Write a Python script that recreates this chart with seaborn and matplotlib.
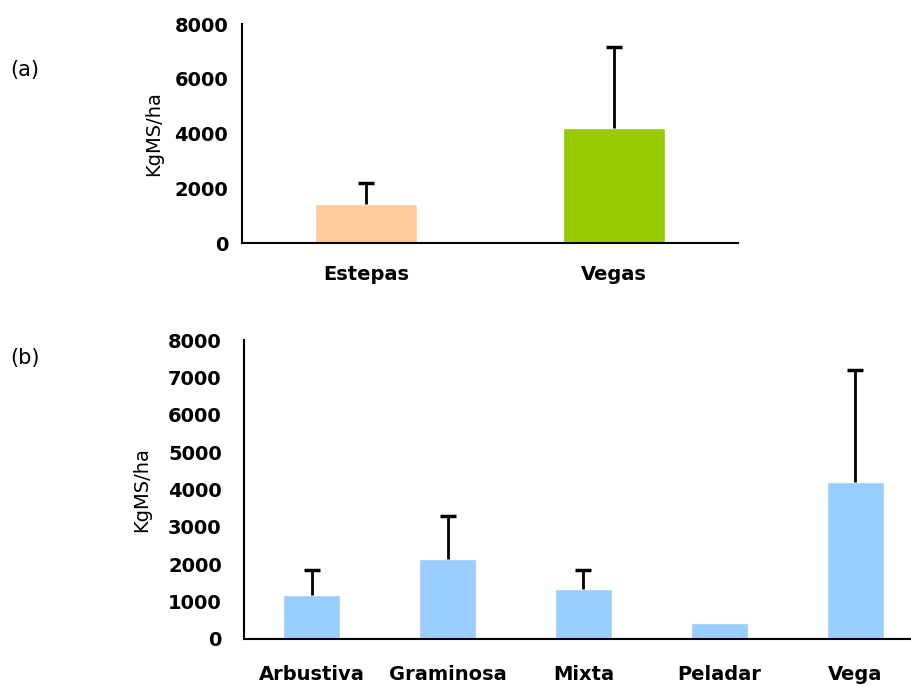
import pandas as pd
import matplotlib
matplotlib.use('Agg')
import matplotlib.pyplot as plt
import seaborn as sns

# Panel (a): forage production by broad unit
units_a = ['Estepas', 'Vegas']
mean_a = [1420, 4200]
sd_a = [780, 2970]
colors_a = ['#FFCC99', '#99CC00']

# Panel (b): forage production by vegetation type
units_b = ['Arbustiva', 'Graminosa', 'Mixta', 'Peladar', 'Vega']
mean_b = [1170, 2150, 1345, 440, 4205]
sd_b = [685, 1150, 510, 0, 2990]
color_b = '#99CCFF'

sns.set_style('white')
plt.rcParams['font.family'] = ['DejaVu Sans']
for key in ['text.color', 'axes.labelcolor', 'xtick.color', 'ytick.color']:
    plt.rcParams[key] = 'black'

fig = plt.figure(figsize=(9.12, 6.87), dpi=100)
ax1 = fig.add_axes([242 / 912, 1 - 243 / 687, 496 / 912, 219 / 687])
ax2 = fig.add_axes([244 / 912, 1 - 639 / 687, 679 / 912, 299 / 687])


def style_axis(ax, ticks, pad_y, pad_x, labelpad):
    for side in ['top', 'right']:
        ax.spines[side].set_visible(False)
    for side in ['left', 'bottom']:
        ax.spines[side].set_color('black')
        ax.spines[side].set_linewidth(1.5)
    ax.set_yticks(ticks)
    ax.tick_params(axis='y', length=0, pad=pad_y, labelsize=14)
    ax.tick_params(axis='x', length=0, pad=pad_x, labelsize=14)
    for lab in ax.get_xticklabels() + ax.get_yticklabels():
        lab.set_fontweight('bold')
    ax.set_xlabel('')
    ax.set_ylabel('KgMS/ha', fontsize=14, labelpad=labelpad)


def upper_errorbars(ax, means, sds):
    # one-sided (upward) error bars, skipped where there is none
    xs = [i for i, s in enumerate(sds) if s > 0]
    ys = [means[i] for i in xs]
    up = [sds[i] for i in xs]
    _, caps, _ = ax.errorbar(xs, ys, yerr=[[0] * len(xs), up], fmt='none',
                             ecolor='black', elinewidth=2, capsize=6,
                             capthick=2.5, zorder=3)
    caps[0].set_visible(False)


# (a)
df_a = pd.DataFrame({'unit': units_a, 'kg': mean_a})
sns.barplot(data=df_a, x='unit', y='kg', hue='unit', palette=colors_a,
            width=0.41, saturation=1, legend=False, ax=ax1, zorder=1)
upper_errorbars(ax1, mean_a, sd_a)
ax1.set_xlim(-0.5, 1.5)
ax1.set_ylim(0, 8000)
style_axis(ax1, [0, 2000, 4000, 6000, 8000], 10, 16, 8)

# (b)
df_b = pd.DataFrame({'unit': units_b, 'kg': mean_b})
sns.barplot(data=df_b, x='unit', y='kg', color=color_b, width=0.42,
            saturation=1, ax=ax2, zorder=1)
upper_errorbars(ax2, mean_b, sd_b)
ax2.set_xlim(-0.5, 4.5)
ax2.set_ylim(0, 8000)
style_axis(ax2, range(0, 8001, 1000), 16, 19, 12)

fig.text(10 / 912, 1 - 70 / 687, '(a)', fontsize=15, va='center', ha='left')
fig.text(10 / 912, 1 - 358 / 687, '(b)', fontsize=15, va='center', ha='left')

fig.savefig('out.png', dpi=100)
plt.close(fig)
